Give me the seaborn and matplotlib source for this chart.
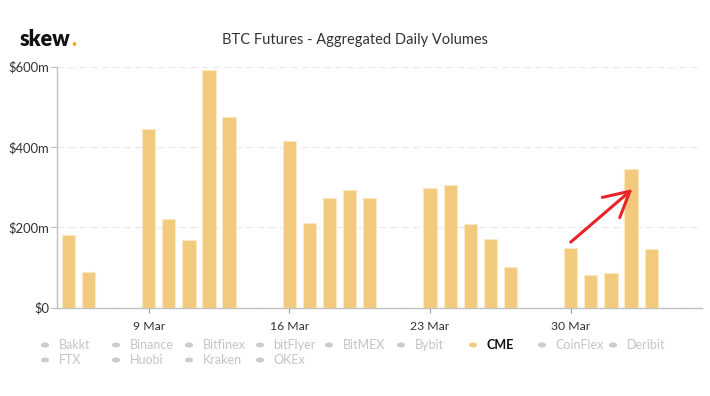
import matplotlib
matplotlib.use("Agg")
import matplotlib.pyplot as plt
import matplotlib.dates as mdates
import matplotlib.ticker as mticker
import numpy as np
import pandas as pd
import seaborn as sns

# Chart data (CME daily volumes, $m)
dates = ['2020-03-05', '2020-03-06',
         '2020-03-09', '2020-03-10', '2020-03-11', '2020-03-12', '2020-03-13',
         '2020-03-16', '2020-03-17', '2020-03-18', '2020-03-19', '2020-03-20',
         '2020-03-23', '2020-03-24', '2020-03-25', '2020-03-26', '2020-03-27',
         '2020-03-30', '2020-03-31', '2020-04-01', '2020-04-02', '2020-04-03']
cme_volume = [180, 88,
              444, 220, 167, 593, 474,
              414, 211, 273, 292, 274,
              297, 304, 207, 170, 101,
              148, 82, 87, 345, 145]
y_ticks = [0, 200, 400, 600]
exchanges = ['Bakkt', 'Binance', 'Bitfinex', 'bitFlyer', 'BitMEX', 'Bybit',
             'CME', 'CoinFlex', 'Deribit', 'FTX', 'Huobi', 'Kraken', 'OKEx']
active_exchange = 'CME'
title = 'BTC Futures - Aggregated Daily Volumes'

# Red hand-drawn arrow: from 30 Mar to 2 Apr
arrow_from = ('2020-03-30', 163)
arrow_to = ('2020-04-02', 295)

BAR_COLOR = '#f2ca7e'
GREY_TEXT = '#c4c4c4'
DARK_TEXT = '#333333'


def main():
    sns.set_theme(style='white')
    plt.rcParams['font.family'] = ['Lato', 'DejaVu Sans']

    df = pd.DataFrame({'date': mdates.date2num(pd.to_datetime(dates)),
                       'volume': cme_volume})

    W, H = 710, 396
    fig = plt.figure(figsize=(W / 100, H / 100), dpi=100)
    ax = fig.add_axes([57.3 / W, 1 - 307.5 / H, (702 - 57.3) / W, (307.5 - 66.7) / H])

    sns.barplot(data=df, x='date', y='volume', native_scale=True, orient='x',
                width=0.66, color=BAR_COLOR, saturation=1, errorbar=None,
                edgecolor='#fbe8c4', linewidth=0.8, ax=ax, zorder=3)

    # Axes limits / ticks
    start = df['date'].min()
    ax.set_xlim(start - 0.55, start + 31.53)
    ax.set_ylim(0, 600)
    ax.set_yticks(y_ticks)
    ax.yaxis.set_major_formatter(mticker.FuncFormatter(
        lambda v, _: '$0' if v == 0 else f'${v:.0f}m'))
    ax.xaxis.set_major_locator(mdates.WeekdayLocator(byweekday=mdates.MO))
    ax.xaxis.set_major_formatter(mdates.DateFormatter('%-d %b'))
    ax.set_xlabel('')
    ax.set_ylabel('')

    ax.yaxis.grid(True, linestyle=(0, (6, 4)), color='#e8e8e8', linewidth=0.8, zorder=0)
    ax.xaxis.grid(False)
    for side in ['top', 'right']:
        ax.spines[side].set_visible(False)
    for side in ['left', 'bottom']:
        ax.spines[side].set_color('#c0c0c0')
        ax.spines[side].set_linewidth(1)
    ax.tick_params(axis='y', length=5, width=0.8, color='#c0c0c0', pad=1,
                   labelsize=9.4, labelcolor=DARK_TEXT, left=True)
    ax.tick_params(axis='x', length=3.5, width=0.8, color='#999999', pad=6,
                   labelsize=8.8, labelcolor=DARK_TEXT, bottom=True)

    # Red arrow annotation
    ax.annotate('', xy=(mdates.date2num(pd.Timestamp(arrow_to[0])) + 0.07, arrow_to[1]),
                xytext=(mdates.date2num(pd.Timestamp(arrow_from[0])), arrow_from[1]),
                arrowprops=dict(arrowstyle='->,head_length=1.5,head_width=0.8',
                                color='#e8242b', lw=2.2, shrinkA=0, shrinkB=0,
                                capstyle='round', joinstyle='round'),
                zorder=5)

    # Title and logo
    fig.text(0.5, 1 - 44 / H, title, ha='center', va='baseline',
             fontsize=10.5, color=DARK_TEXT)
    logo = fig.text(20 / W, 1 - 46 / H, 'skew', ha='left', va='baseline',
                    fontsize=15.5, fontweight='heavy', color='#111111')
    fig.canvas.draw()
    bb = logo.get_window_extent()
    fig.text(bb.x1 / W + 0.5 / W, 1 - 46 / H, '.', ha='left', va='baseline',
             fontsize=15.5, fontweight='heavy', color='#f5a623')

    # Legend (Highcharts-style, two rows)
    dot_x = [45, 116, 189, 260, 329, 401, 473, 542, 613, 45, 116, 189, 260]
    row_y = [345, 345, 345, 345, 345, 345, 345, 345, 345, 360, 360, 360, 360]
    for name, x, y in zip(exchanges, dot_x, row_y):
        active = name == active_exchange
        fig.patches.append(plt.Circle((x / W, 1 - y / H), 3.3 / W,
                                      transform=fig.transFigure,
                                      color=BAR_COLOR if active else '#cccccc'))
        fig.text((x + 13.5) / W, 1 - (y + 4) / H, name, ha='left', va='baseline',
                 fontsize=9, color='#111111' if active else GREY_TEXT,
                 fontweight='bold' if active else 'normal')

    fig.savefig('out.png', dpi=100)
    plt.close(fig)


if __name__ == '__main__':
    main()
